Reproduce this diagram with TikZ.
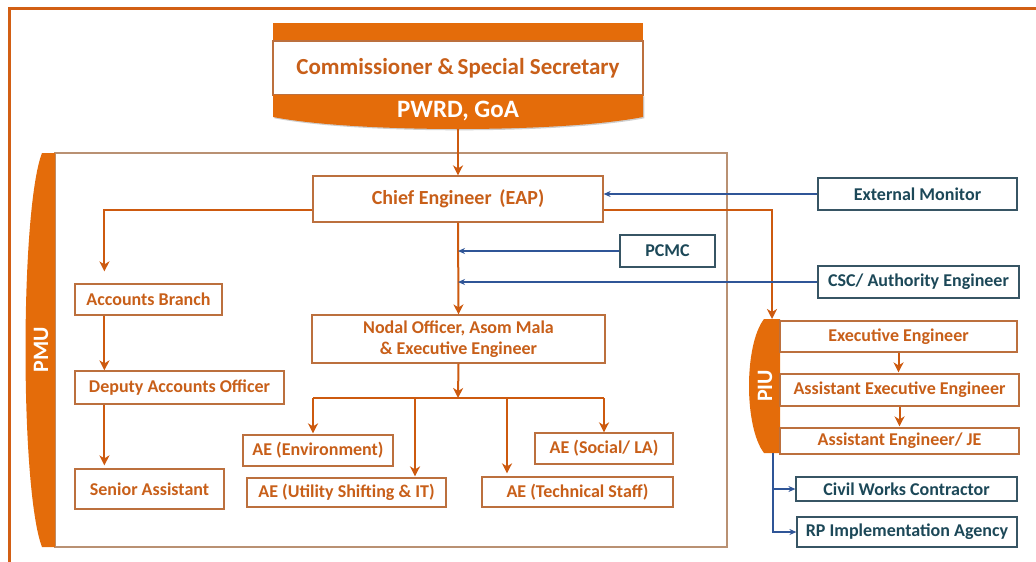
\documentclass[tikz,border=0pt]{standalone}
\usepackage{fontspec}
\setmainfont{Carlito}
\usetikzlibrary{arrows.meta,shadows,calc}
\definecolor{barcol}{RGB}{228,108,10}
\definecolor{framecol}{RGB}{210,95,20}
\definecolor{txtor}{RGB}{200,95,25}
\definecolor{boxor}{RGB}{188,112,62}
\definecolor{lnor}{RGB}{205,90,15}
\definecolor{txtteal}{RGB}{28,72,88}
\definecolor{boxteal}{RGB}{55,85,100}
\definecolor{lnblue}{RGB}{47,85,151}
\definecolor{contcol}{RGB}{185,145,115}
\begin{document}
\begin{tikzpicture}[x=1pt,y=-1pt,
  shad/.style={drop shadow={shadow xshift=1.3pt,shadow yshift=-1.3pt,opacity=.35,fill=black!55}},
  obox/.style={draw=boxor,line width=1.2pt,fill=white,text=txtor,inner sep=0pt,shad,
    font=\bfseries\fontsize{18}{21.5}\selectfont},
  tbox/.style={draw=boxteal,line width=1.2pt,fill=white,text=txtteal,inner sep=0pt,shad,
    font=\bfseries\fontsize{18}{21.5}\selectfont},
  oarr/.style={draw=lnor,line width=2pt,-{Stealth[length=10pt,width=10pt,inset=3pt]}},
  oline/.style={draw=lnor,line width=2pt},
  barr/.style={draw=lnblue,line width=1.5pt,-{Stealth[length=7pt,width=6pt]}},
  bline/.style={draw=lnblue,line width=1.5pt},
  wlabel/.style={text=white,font=\bfseries\fontsize{22}{26}\selectfont,inner sep=0pt}
]
\useasboundingbox (0,0) rectangle (1036,562);
% outer frame
\draw[framecol,line width=3pt] (9,562) -- (9,8) -- (1036,8);

% top block
\fill[barcol] (273,23) rectangle (643,41);
\draw[boxor,line width=1.2pt,fill=white] (273,41) rectangle (643,95);
\fill[barcol,shad] (273,95) -- (643,95) -- (643,117) .. controls (560,133) and (356,133) .. (273,117) -- cycle;
\node[text=txtor,font=\bfseries\fontsize{23}{27}\selectfont,inner sep=0pt] (comm) at (458,68) {Commissioner \&\,Special Secretary};
\node[text=white,font=\bfseries\fontsize{25}{29}\selectfont,inner sep=0pt] (pwrd) at (458,111) {PWRD, GoA};
\coordinate (topbot) at (458,129);

% PMU container
\draw[contcol,line width=1.2pt] (55,153) rectangle (727,547);
\fill[barcol] (55,153) -- (42,153) .. controls (20,210) and (20,490) .. (42,547) -- (55,547) -- cycle;
\node[wlabel,rotate=90] (pmu) at (41,350) {PMU};

% PIU bar
\fill[barcol] (780,319) -- (764,319) .. controls (744,345) and (744,427) .. (764,453) -- (780,453) -- cycle;
\node[wlabel,rotate=90] (piu) at (765,386) {PIU};
\coordinate (piutop) at (772,319);
\coordinate (piubot) at (773,453);

% PMU nodes
\node[obox,minimum width=290pt,minimum height=46pt,font=\bfseries\fontsize{20}{24}\selectfont] (ce) at (458,199) {Chief Engineer\, (EAP)};
\node[obox,minimum width=293pt,minimum height=48pt,align=center] (nodal) at (458.5,339) {Nodal Officer, Asom Mala\\\& Executive Engineer};
\node[obox,minimum width=147pt,minimum height=31pt] (acc) at (148.5,299.5) {Accounts Branch};
\node[obox,minimum width=209pt,minimum height=33pt] (dep) at (179.5,387.5) {Deputy Accounts Officer};
\node[obox,minimum width=149pt,minimum height=40pt] (sen) at (149.5,489) {Senior Assistant};
\node[obox,minimum width=150pt,minimum height=31pt] (env) at (318,450.5) {AE (Environment)};
\node[obox,minimum width=199pt,minimum height=29pt] (util) at (346.5,492.5) {AE (Utility Shifting \& IT)};
\node[obox,minimum width=191pt,minimum height=30pt] (tech) at (577.5,492) {AE (Technical Staff)};
\node[obox,minimum width=138pt,minimum height=31pt] (soc) at (604,448.5) {AE (Social/ LA)};

% external nodes
\node[tbox,minimum width=95pt,minimum height=32pt] (pcmc) at (667.5,251) {PCMC};
\node[tbox,minimum width=199pt,minimum height=32pt] (ext) at (917.5,194) {External Monitor};
\node[tbox,minimum width=201pt,minimum height=32pt] (csc) at (918.5,282) {CSC/ Authority Engineer};

% PIU nodes
\node[obox,minimum width=237pt,minimum height=31pt] (ee) at (898.5,336.5) {Executive Engineer};
\node[obox,minimum width=239pt,minimum height=32pt] (aee) at (899.5,390) {Assistant Executive Engineer};
\node[obox,minimum width=239pt,minimum height=26pt] (aej) at (899.5,441) {Assistant Engineer/ JE};
\node[tbox,minimum width=221pt,minimum height=24pt] (cwc) at (906.5,489) {Civil Works Contractor};
\node[tbox,minimum width=220pt,minimum height=30pt] (rp) at (907,532) {RP Implementation Agency};

% connectors (orange)
\draw[oarr] (topbot) -- (ce.north);
\draw[oarr,shorten >=12pt] ($(ce.west)+(0,11)$) -| ($(acc.north west)+(30,0)$);
\draw[oarr] ($(acc.south west)+(30,0)$) -- ($(dep.north west)+(30,0)$);
\draw[oarr,shorten >=3pt] ($(dep.south west)+(30,0)$) -- ($(sen.north west)+(30,0)$);
\draw[oarr] (ce.south) -- (nodal.north);
\draw[oarr] ($(ce.east)+(0,11)$) -| (piutop);
\draw[oarr,shorten >=1pt] (ee.south) -- (ee.south |- aee.north);
\draw[oarr,shorten >=1pt] (aee.south) -- (aee.south |- aej.north);

% nodal bus
\coordinate (bus) at (458,398);
\coordinate (busA) at (313,398);
\coordinate (busB) at (415,398);
\coordinate (busC) at (507,398);
\coordinate (busD) at (604,398);
\draw[oarr] (nodal.south) -- (bus);
\draw[oline] (busA) -- (busD);
\draw[oarr,shorten >=1pt] (busA) -- (busA |- env.north);
\draw[oarr,shorten >=1pt] (busB) -- (busB |- util.north);
\draw[oarr,shorten >=3pt] (busC) -- (busC |- tech.north);
\draw[oarr] (busD) -- (soc.north);

% connectors (blue)
\draw[barr] (ext.west) -- (ce.east |- ext.west);
\draw[barr] (pcmc.west) -- (ce.south |- pcmc.west);
\draw[barr] (csc.west) -- (ce.south |- csc.west);
\draw[barr] (piubot) |- (rp.west);
\draw[barr] (piubot |- cwc.west) -- (cwc.west);
\end{tikzpicture}
\end{document}
